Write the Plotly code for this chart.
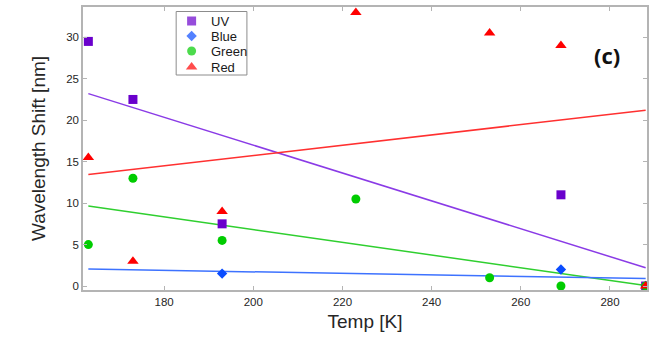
import plotly.graph_objects as go

# ---- data ----
uv_t = [163, 173, 193, 269, 288]
uv_v = [29.5, 22.5, 7.5, 11, 0]
blue_t = [193, 269, 288]
blue_v = [1.5, 2, 0]
green_t = [163, 173, 193, 223, 253, 269, 288]
green_v = [5, 13, 5.5, 10.5, 1, 0, 0]
red_t = [163, 173, 193, 223, 253, 269, 288]
red_v = [15.5, 3, 9, 33, 30.5, 29, 0]

fit_t = [163, 288]
uv_fit = [23.2, 2.2]
blue_fit = [2.05, 0.9]
green_fit = [9.65, 0.05]
red_fit = [13.45, 21.2]

x_ticks = [180, 200, 220, 240, 260, 280]
y_ticks = [0, 5, 10, 15, 20, 25, 30]

legend_names = ["UV", "Blue", "Green", "Red"]

# ---- styles ----
C_UV, C_UV_L = "#6a00cc", "#8a3be6"
C_BL, C_BL_L = "#0a4cff", "#3d72ff"
C_GR, C_GR_L = "#00cc00", "#2fcf2f"
C_RD, C_RD_L = "#ff0000", "#ff3030"
FONT = "Liberation Sans, Arial, sans-serif"

fig = go.Figure()

# fit lines
for yv, col in [(uv_fit, C_UV_L), (red_fit, C_RD_L), (green_fit, C_GR_L), (blue_fit, C_BL_L)]:
    fig.add_trace(go.Scatter(x=fit_t, y=yv, mode="lines", line=dict(color=col, width=1.5),
                             showlegend=False, hoverinfo="skip"))

# data markers
series = [
    (uv_t, uv_v, C_UV, "square", 9),
    (blue_t, blue_v, C_BL, "diamond", 8),
    (green_t, green_v, C_GR, "circle", 9),
    (red_t, red_v, C_RD, "triangle-up", 10),
]
for (t, v, col, sym, sz), name in zip(series, legend_names):
    fig.add_trace(go.Scatter(x=t, y=v, mode="markers", name=name,
                             marker=dict(color=col, symbol=sym, size=sz, line=dict(width=0)),
                             showlegend=False))

# custom legend in pixel-like overlay coordinates
leg_y = [21, 36, 51, 67]
fig.add_trace(go.Scatter(
    x=[192] * 4, y=leg_y, mode="markers", xaxis="x2", yaxis="y2",
    marker=dict(color=[s[2] for s in series], symbol=[s[3] for s in series],
                size=[9, 8, 9, 10], line=dict(width=0)),
    showlegend=False, hoverinfo="skip", cliponaxis=False))
for name, yy in zip(legend_names, leg_y):
    fig.add_annotation(x=209, y=yy, xref="x2", yref="y2", text=name, showarrow=False,
                       xanchor="left", yanchor="middle",
                       font=dict(family=FONT, size=13, color="#1a1a1a"))
fig.add_shape(type="rect", xref="x2", yref="y2", x0=176.5, x1=247.5, y0=11.5, y1=75,
              line=dict(color="#8c8c8c", width=1), fillcolor="rgba(0,0,0,0)", layer="above")

fig.add_annotation(x=594, y=55, xref="x2", yref="y2", xanchor="left", yanchor="middle",
                   text="<b>(c)</b>", showarrow=False,
                   font=dict(family="Open Sans, sans-serif", size=22, color="#111"))

axis_common = dict(showgrid=False, zeroline=False, showline=True, linecolor="#b4b4b4",
                   linewidth=1.5, mirror="ticks", ticks="inside", ticklen=4,
                   tickcolor="#b4b4b4", tickwidth=1,
                   tickfont=dict(family=FONT, size=11.5, color="#262626"))

fig.update_layout(
    width=650, height=337,
    margin=dict(l=83, r=1, t=7, b=47),
    paper_bgcolor="white", plot_bgcolor="white",
    xaxis=dict(range=[161.8, 288.3], tickvals=x_ticks,
               title=dict(text="Temp [K]", standoff=8,
                          font=dict(family=FONT, size=19, color="#262626")),
               **axis_common),
    yaxis=dict(range=[-0.48, 33.65], tickvals=y_ticks,
               title=dict(text="Wavelength Shift [nm]", standoff=16,
                          font=dict(family=FONT, size=19, color="#262626")),
               **axis_common),
    xaxis2=dict(overlaying="x", range=[83, 649], visible=False, fixedrange=True),
    yaxis2=dict(overlaying="y", range=[290, 7], visible=False, fixedrange=True),
    showlegend=False,
)

fig.write_html("out.html")
